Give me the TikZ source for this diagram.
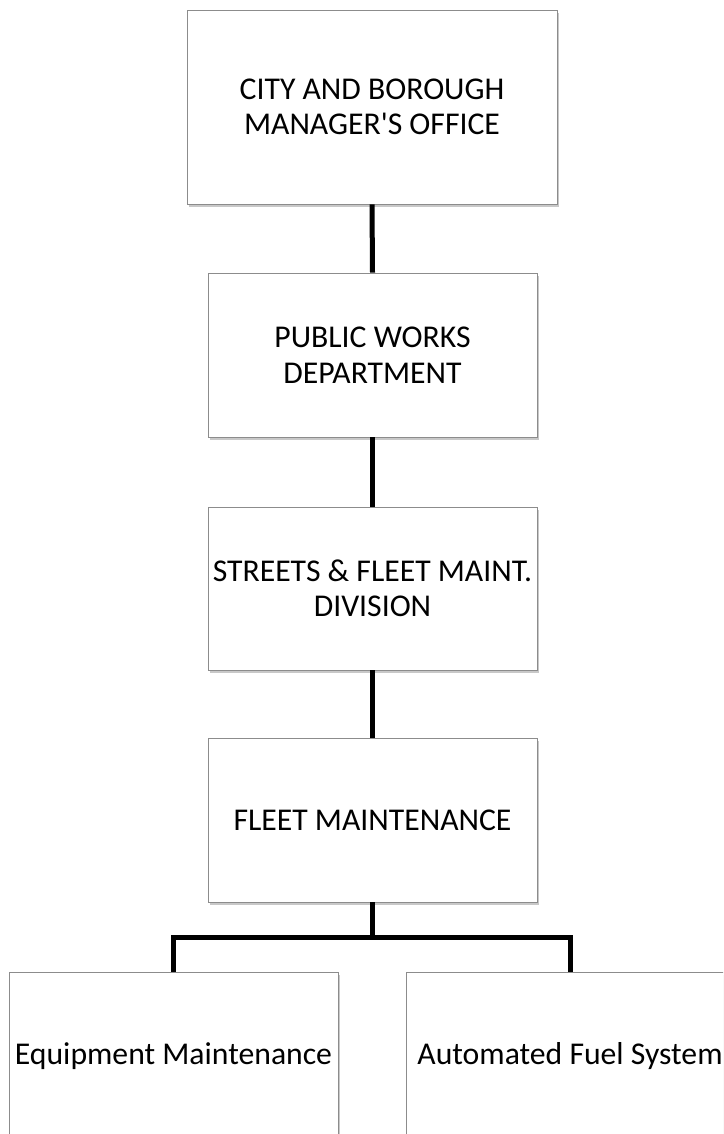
\documentclass[tikz,border=0pt]{standalone}
\usepackage{fontspec}
\setmainfont{Carlito}[Ligatures=TeXOff]
\usetikzlibrary{shadows}
\tikzset{
  orgbox/.style={draw=black!45, line width=0.9pt, fill=white, inner sep=0pt,
    align=center, font=\fontsize{31.7}{35.5}\selectfont,
    drop shadow={shadow xshift=1.5pt, shadow yshift=-3pt, opacity=0.3, fill=black!70}},
  link/.style={line width=5pt, black}
}
\begin{document}
\begin{tikzpicture}[x=1pt,y=-1pt]
\useasboundingbox (0,0) rectangle (723,1134);
\clip (0,0) rectangle (723,1134);
\fill[white] (0,0) rectangle (723,1134);
\node[orgbox, minimum width=370pt, minimum height=194pt] (b1) at (372,107) {CITY AND BOROUGH\\MANAGER'S OFFICE};
\node[orgbox, minimum width=329pt, minimum height=164pt] (b2) at (372.5,355) {PUBLIC WORKS\\DEPARTMENT};
\node[orgbox, minimum width=329pt, minimum height=163pt] (b3) at (372.5,588.5) {STREETS \& FLEET MAINT.\\DIVISION};
\node[orgbox, minimum width=329pt, minimum height=164pt] (b4) at (372.5,820) {FLEET MAINTENANCE};
\node[orgbox, minimum width=329pt, minimum height=168pt] (b5) at (173.5,1056) {Equipment Maintenance};
\node[orgbox, minimum width=328pt, minimum height=168pt] (b6) at (570,1056) {Automated Fuel System};
\coordinate (fork) at (372.5,937);
\draw[link] (b1.south) -- (b2.north);
\draw[link] (b2.south) -- (b3.north);
\draw[link] (b3.south) -- (b4.north);
\draw[link] (b4.south) -- (fork);
\draw[link] (b5.north) |- (fork) -| (b6.north);
\end{tikzpicture}
\end{document}
